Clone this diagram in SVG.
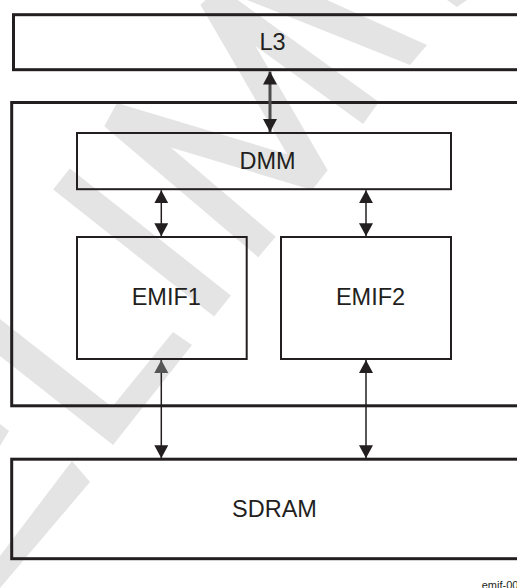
<svg xmlns="http://www.w3.org/2000/svg" width="517" height="588" viewBox="0 0 517 588">
  <defs>
    <style>
      .wm { fill: #e4e4e4; stroke: none; }
      .wml { fill: none; stroke: #e4e4e4; stroke-width: 27; stroke-linejoin: bevel; stroke-linecap: butt; }
      .big { fill: none; stroke: #231f20; stroke-width: 3; }
      .blk { fill: none; stroke: #231f20; stroke-width: 2; }
      .lbl { font-family: "Liberation Sans", Arial, sans-serif; font-size: 23.5px; fill: #231f20; text-anchor: middle; }
      .conn { stroke: #231f20; stroke-width: 1.5; fill: none; }
      .thick { stroke: #4d4d4d; stroke-width: 3; fill: none; }
      .fig { font-family: "Liberation Sans", Arial, sans-serif; font-size: 11px; fill: #231f20; }
    </style>
    <marker id="ah" viewBox="0 0 13 14" refX="13" refY="7" markerWidth="13" markerHeight="14" markerUnits="userSpaceOnUse" orient="auto-start-reverse">
      <path d="M0,0 L13,7 L0,14 Z" fill="#231f20"/>
    </marker>
    <marker id="ahg" viewBox="0 0 13 14" refX="13" refY="7" markerWidth="13" markerHeight="14" markerUnits="userSpaceOnUse" orient="auto-start-reverse">
      <path d="M0,0 L13,7 L0,14 Z" fill="#555555"/>
    </marker>
  </defs>
  <rect width="517" height="588" fill="#ffffff"/>

  <g id="watermark">
    <polyline class="wml" points="371,113 212,-2 316,177 113,116 267,247"/>
    <line class="wml" x1="61.5" y1="179" x2="222.5" y2="306"/>
    <polygon class="wm" points="247,0 327,0 427,45 410,65"/>
    <polygon class="wm" points="447,0 467,0 457,7"/>
    <polygon class="wm" points="0,319 112,407 173,332 192,345 113,445 0,356"/>
    <polygon class="wm" points="0,424 9,431 0,446"/>
    <polygon class="wm" points="72,461 90,482 0,588 0,556"/>
  </g>

  <g id="l3">
    <rect class="big" x="13.5" y="14.7" width="520" height="55"/>
    <text class="lbl" x="272.5" y="50">L3</text>
  </g>

  <g id="outer">
    <rect class="big" x="11.7" y="102.5" width="520" height="303.3"/>
  </g>

  <g id="dmm">
    <rect class="blk" x="77" y="133" width="374" height="56.2"/>
    <text class="lbl" x="267.5" y="169">DMM</text>
  </g>

  <g id="emif1">
    <rect class="blk" x="77" y="237" width="169.7" height="122"/>
    <text class="lbl" x="166.3" y="305">EMIF1</text>
  </g>

  <g id="emif2">
    <rect class="blk" x="281" y="237" width="170" height="122"/>
    <text class="lbl" x="370.5" y="305">EMIF2</text>
  </g>

  <g id="sdram">
    <rect class="big" x="11.7" y="459.2" width="520" height="99.5"/>
    <text class="lbl" x="274.5" y="516.7">SDRAM</text>
  </g>

  <g id="connectors">
    <line class="thick" x1="270" y1="71.5" x2="270" y2="132" marker-start="url(#ah)" marker-end="url(#ah)"/>
    <line class="conn" x1="161.3" y1="190.2" x2="161.3" y2="236.2" marker-start="url(#ah)" marker-end="url(#ah)"/>
    <line class="conn" x1="366" y1="190.2" x2="366" y2="236.2" marker-start="url(#ah)" marker-end="url(#ah)"/>
    <line class="conn" x1="161.3" y1="360" x2="161.3" y2="458.2" marker-start="url(#ahg)" marker-end="url(#ah)"/>
    <line class="conn" x1="366" y1="360" x2="366" y2="458.2" marker-start="url(#ah)" marker-end="url(#ah)"/>
  </g>

  <text class="fig" x="481.7" y="589">emif-001</text>
</svg>
